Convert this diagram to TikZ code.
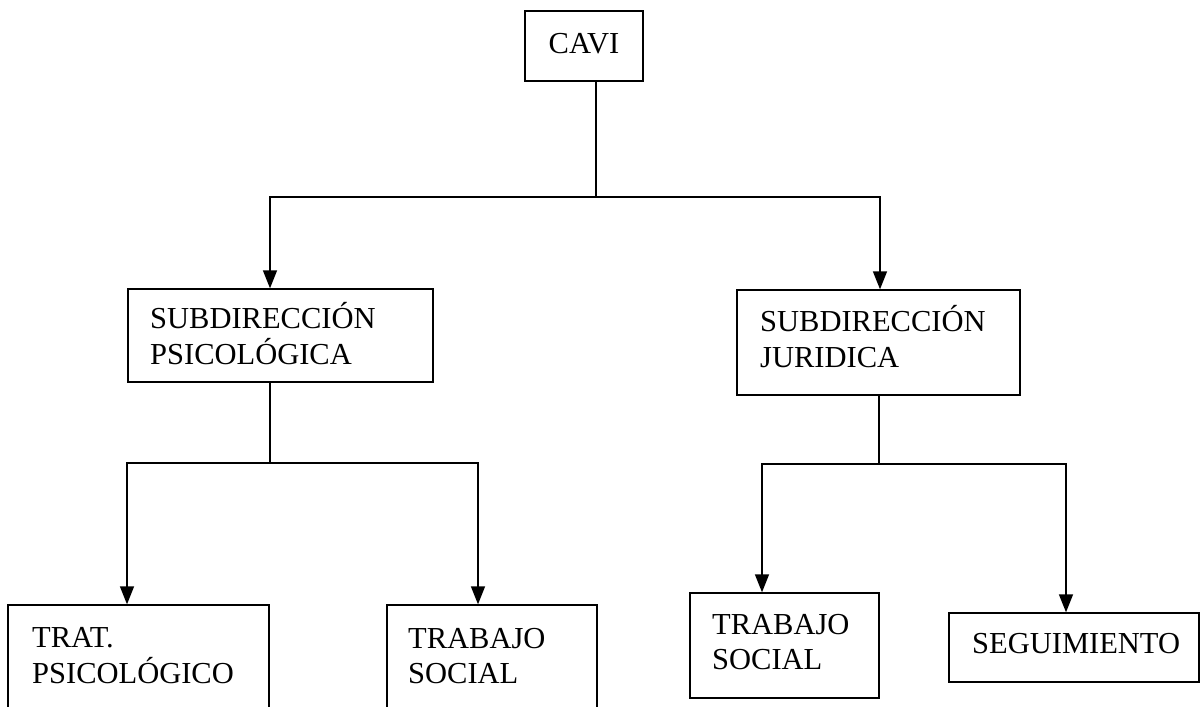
\documentclass[tikz,border=0pt]{standalone}
\usepackage{fontspec}
\setmainfont{Liberation Serif}
\usetikzlibrary{arrows.meta}
\begin{document}
\begin{tikzpicture}[x=1pt,y=-1pt,
  box/.style={draw, line width=1.4pt, inner sep=0pt},
  txt/.style={anchor=base west, inner sep=0pt, font=\fontsize{30.5}{36}\selectfont},
  link/.style={line width=1.6pt},
  arr/.style={link, -{Triangle[width=14pt,length=18pt]}}]
\useasboundingbox (0,0) rectangle (1203,707);
\fill[white] (0,0) rectangle (1203,707);
\clip (0,0) rectangle (1203,707);

% boxes
\node[box, minimum width=118pt, minimum height=70pt] (cavi) at (584,46) {};
\node[box, minimum width=305pt, minimum height=93pt] (subL) at (280.5,335.5) {};
\node[box, minimum width=283pt, minimum height=105pt] (subR) at (878.5,342.5) {};
\node[box, minimum width=261pt, minimum height=155pt] (trat) at (138.5,682.5) {};
\node[box, minimum width=210pt, minimum height=155pt] (tsA) at (492,682.5) {};
\node[box, minimum width=189pt, minimum height=105pt] (tsB) at (784.5,645.5) {};
\node[box, minimum width=250pt, minimum height=69pt] (seg) at (1074,647.5) {};

% labels
\node[txt, anchor=base] (caviT) at (584,53) {CAVI};
\node[txt] (subLa) at (150,328) {SUBDIRECCIÓN};
\node[txt] (subLb) at (150,364) {PSICOLÓGICA};
\node[txt] (subRa) at (760,331) {SUBDIRECCIÓN};
\node[txt] (subRb) at (760,367) {JURIDICA};
\node[txt] (tratA) at (32,647) {TRAT.};
\node[txt] (tratB) at (32,683) {PSICOLÓGICO};
\node[txt] (tsAa) at (408,648) {TRABAJO};
\node[txt] (tsAb) at (408,683) {SOCIAL};
\node[txt] (tsBa) at (712,634) {TRABAJO};
\node[txt] (tsBb) at (712,669) {SOCIAL};
\node[txt] (segT) at (972,653) {SEGUIMIENTO};

% junctions
\coordinate (j1) at (596,197);
\coordinate (j2) at (270,463);
\coordinate (j3) at (879,464);

% connectors
\draw[link] (cavi.south -| j1) -- (j1);
\draw[arr] (j1) -| ([xshift=-10.5pt]subL.north);
\draw[arr] (j1) -| ([xshift=1.5pt]subR.north);

\draw[link] (subL.south -| j2) -- (j2);
\draw[arr] (j2) -| ([xshift=-11.5pt]trat.north);
\draw[arr] (j2) -| ([xshift=-14pt]tsA.north);

\draw[link] (subR.south -| j3) -- (j3);
\draw[arr] (j3) -| ([xshift=-22.5pt]tsB.north);
\draw[arr] (j3) -| ([xshift=-8pt]seg.north);
\end{tikzpicture}
\end{document}
